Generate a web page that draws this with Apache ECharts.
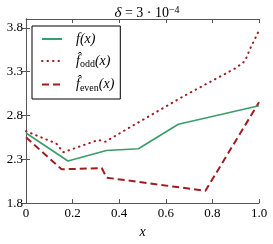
<!DOCTYPE html>
<html><head><meta charset="utf-8">
<script src="https://cdn.jsdelivr.net/npm/echarts@6/dist/echarts.min.js"></script>
<style>html,body{margin:0;padding:0;background:#fff}#c{width:273px;height:244px}</style>
</head><body><div id="c"></div>
<script>
const xTicks = [0, 0.2, 0.4, 0.6, 0.8, 1.0];
const yTicks = [1.8, 2.3, 2.8, 3.3, 3.8];
const fX = [0, 0.18, 0.345, 0.482, 0.654, 1.0];
const fY = [2.60, 2.28, 2.40, 2.42, 2.70, 2.91];
const oddX = [0, 0.13, 0.16, 0.31, 0.34, 0.67, 0.90, 0.94, 0.96, 1.0];
const oddY = [2.62, 2.48, 2.38, 2.52, 2.50, 3.01, 3.34, 3.42, 3.55, 3.77];
const evenX = [0, 0.153, 0.325, 0.346, 0.77, 1.0];
const evenY = [2.55, 2.185, 2.20, 2.09, 1.94, 2.95];
const names = ['f', 'odd', 'even'];

const zip = (a, b) => a.map((v, i) => [v, b[i]]);
const serif = '"Liberation Serif", "DejaVu Serif", serif';
const green = '#3b9d68', red = '#a01c20', frame = '#555';

const chart = echarts.init(document.getElementById('c'), null, {renderer: 'canvas'});
const axisCommon = {
  axisLine: {show: true, lineStyle: {color: frame, width: 1}},
  axisTick: {show: true, inside: true, length: 4, lineStyle: {color: frame}},
  splitLine: {show: false}
};
chart.setOption({
  animation: false,
  backgroundColor: '#fff',
  title: {
    text: '{i|δ}{r| = 3 · 10}{s|−4}',
    left: 142, top: 0, textAlign: 'center',
    textStyle: {
      fontWeight: 'normal',
      rich: {
        i: {fontFamily: serif, fontStyle: 'italic', fontWeight: 'normal', fontSize: 15, color: '#000'},
        r: {fontFamily: serif, fontWeight: 'normal', fontSize: 14, color: '#000'},
        s: {fontFamily: serif, fontWeight: 'normal', fontSize: 10, color: '#000', padding: [0, 0, 7, 0]}
      }
    }
  },
  grid: {left: 26, right: 14, top: 19, bottom: 38},
  xAxis: [
    Object.assign({type: 'value', min: 0, max: 1, interval: 0.2, position: 'bottom',
      name: 'x', nameLocation: 'middle', nameGap: 20,
      nameTextStyle: {fontFamily: serif, fontStyle: 'italic', fontSize: 14, color: '#000'},
      axisLabel: {fontFamily: serif, fontSize: 13, color: '#000', margin: 4,
        formatter: v => v === 0 ? '0' : v.toFixed(1)}}, axisCommon),
    Object.assign({type: 'value', min: 0, max: 1, interval: 0.2, position: 'top',
      axisLabel: {show: false}}, axisCommon)
  ],
  yAxis: [
    Object.assign({type: 'value', min: 1.8, max: 3.9, position: 'left',
      axisLabel: {fontFamily: serif, fontSize: 13, color: '#000', margin: 3,
        customValues: yTicks, formatter: v => v.toFixed(1)}}, axisCommon,
      {axisTick: {show: true, inside: true, length: 4, customValues: yTicks, lineStyle: {color: frame}}}),
    Object.assign({type: 'value', min: 1.8, max: 3.9, position: 'right',
      axisLabel: {show: false, customValues: yTicks}}, axisCommon,
      {axisTick: {show: true, inside: true, length: 4, customValues: yTicks, lineStyle: {color: frame}}})
  ],
  legend: {
    orient: 'vertical', left: 32, top: 26,
    padding: [6, 6, 6, 9], itemGap: 8, itemWidth: 20, itemHeight: 14,
    borderColor: '#000', borderWidth: 1, backgroundColor: '#fff',
    data: names,
    itemStyle: {opacity: 0},
    formatter: n => n === 'f' ? '{i|f(x)}' : '{i|f̂}{s|' + n + '}{i|(x)}',
    textStyle: {
      rich: {
        i: {fontFamily: serif, fontStyle: 'italic', fontSize: 14, color: '#000'},
        s: {fontFamily: serif, fontSize: 10, color: '#000', padding: [7, 0, 0, 0]}
      },
      padding: [0, 0, 0, 9]
    }
  },
  series: [
    {name: 'f', type: 'line', data: zip(fX, fY), showSymbol: false, symbol: 'none',
      lineStyle: {color: green, width: 1.6}, itemStyle: {color: green}, z: 3},
    {name: 'odd', type: 'line', data: zip(oddX, oddY), showSymbol: false, symbol: 'none',
      lineStyle: {color: red, width: 2, type: [0.5, 5], cap: 'round'}, itemStyle: {color: red}, z: 2},
    {name: 'even', type: 'line', data: zip(evenX, evenY), showSymbol: false, symbol: 'none',
      lineStyle: {color: red, width: 2, type: [7, 4]}, itemStyle: {color: red}, z: 2}
  ]
});
</script></body></html>
